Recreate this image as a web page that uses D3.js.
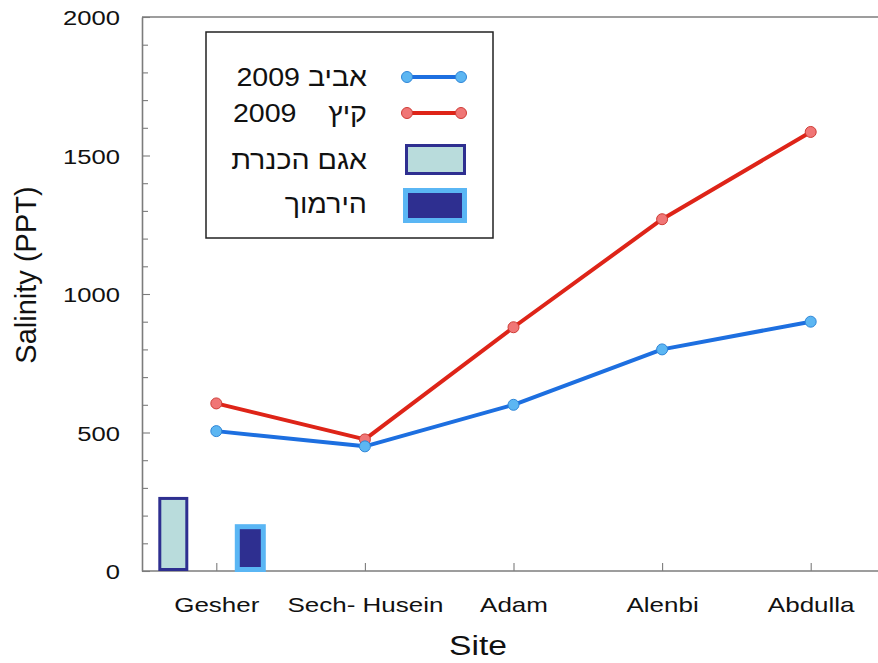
<!DOCTYPE html>
<html>
<head>
<meta charset="utf-8">
<script src="https://cdn.jsdelivr.net/npm/d3@7"></script>
<style>
  body { margin: 0; background: #fff; }
  text { font-family: "Liberation Sans", Arial, sans-serif; }
</style>
</head>
<body>
<svg id="chart" width="878" height="663"></svg>
<script>
// data
const sites = ["Gesher", "Sech- Husein", "Adam", "Alenbi", "Abdulla"];
const spring2009 = [505, 450, 600, 800, 900];
const summer2009 = [605, 475, 880, 1270, 1585];
const barNames = ["אגם הכנרת", "הירמוך"];
const barValues = [262, 160];
const yMajor = [0, 500, 1000, 1500, 2000];
const yMinor = d3.range(0, 2001, 100);

const svg = d3.select("#chart");
const plotLeft = 142, plotTop = 17, plotBottom = 571;

// scales
const x = d3.scaleLinear().domain([-0.5, 4.5]).range([plotLeft, 885]);
const y = d3.scaleLinear().domain([0, 2000]).range([plotBottom, plotTop]);

// colours
const blueLine = "#1d6fe0", blueDot = "#5cb6f2", blueDotStroke = "#2f86d8";
const redLine = "#de2418", redDot = "#f07676", redDotStroke = "#cf3b35";
const navy = "#2e2f90", paleCyan = "#b9dcdc", lightBlue = "#5ab6f4";
const frame = "#7c7c7c";

// top frame line
svg.append("line")
  .attr("x1", plotLeft).attr("x2", 878)
  .attr("y1", plotTop).attr("y2", plotTop)
  .attr("stroke", frame).attr("stroke-width", 1.6);

// y axis: inward ticks, majors a bit longer
const yTicksG = svg.append("g")
  .attr("transform", `translate(${plotLeft},0)`)
  .call(d3.axisRight(y).tickValues(yMinor).tickSize(6).tickSizeOuter(0).tickFormat(""));
yTicksG.select(".domain").attr("stroke", frame).attr("stroke-width", 1.6);
yTicksG.selectAll(".tick line")
  .attr("stroke", frame).attr("stroke-width", 1.1)
  .attr("x2", d => yMajor.includes(d) ? 8 : 6);

const yLabels = svg.append("g")
  .attr("transform", `translate(${plotLeft - 22},0)`)
  .call(d3.axisLeft(y).tickValues(yMajor).tickSize(0).tickPadding(0).tickFormat(d3.format("d")));
yLabels.select(".domain").remove();
yLabels.selectAll("text")
  .attr("x", 0).attr("dy", "0.36em")
  .attr("font-size", 21).attr("fill", "#111")
  .attr("font-family", "Liberation Sans, Arial, sans-serif")
  .attr("transform", "scale(1.22,1)");

// x axis: ticks pointing up, labels below
const xTicksG = svg.append("g")
  .attr("transform", `translate(0,${plotBottom})`)
  .call(d3.axisTop(x).tickValues(d3.range(sites.length)).tickSize(8).tickSizeOuter(0).tickFormat(""));
xTicksG.select(".domain").attr("d", `M${plotLeft},0H878`).attr("stroke", frame).attr("stroke-width", 1.6);
xTicksG.selectAll(".tick line").attr("stroke", frame).attr("stroke-width", 1.1);

const xLabels = svg.append("g")
  .attr("transform", `translate(0,${plotBottom})`)
  .call(d3.axisBottom(x).tickValues(d3.range(sites.length)).tickSize(0).tickFormat(i => sites[i]));
xLabels.select(".domain").remove();
xLabels.selectAll("text")
  .attr("y", 41).attr("dy", 0)
  .attr("font-size", 20).attr("fill", "#111")
  .attr("font-family", "Liberation Sans, Arial, sans-serif")
  .attr("transform", "scale(1.3,1)");

// axis titles
svg.append("text")
  .attr("transform", "translate(36,275) rotate(-90)")
  .attr("text-anchor", "middle")
  .attr("font-size", 29).attr("fill", "#111")
  .text("Salinity (PPT)");

svg.append("text")
  .attr("transform", "translate(478,655) scale(1.2,1)")
  .attr("text-anchor", "middle")
  .attr("font-size", 28).attr("fill", "#111")
  .text("Site");

// bars at Gesher
const barOffsets = [-43, 34];
const barStyles = [
  { fill: paleCyan, stroke: navy, sw: 3, w: 27 },
  { fill: navy, stroke: lightBlue, sw: 5, w: 26 }
];
svg.append("g").selectAll("rect")
  .data(barValues)
  .join("rect")
    .attr("x", (d, i) => x(0) + barOffsets[i] - barStyles[i].w / 2)
    .attr("width", (d, i) => barStyles[i].w)
    .attr("y", d => y(d))
    .attr("height", d => y(0) - y(d) - barStyles[0].sw / 2)
    .attr("fill", (d, i) => barStyles[i].fill)
    .attr("stroke", (d, i) => barStyles[i].stroke)
    .attr("stroke-width", (d, i) => barStyles[i].sw);

// lines
const series = [
  { values: spring2009, line: blueLine, dot: blueDot, dotStroke: blueDotStroke },
  { values: summer2009, line: redLine, dot: redDot, dotStroke: redDotStroke }
];
const lineGen = d3.line().x((d, i) => x(i)).y(d => y(d));

series.slice().reverse().forEach(s => {
  svg.append("path")
    .datum(s.values)
    .attr("d", lineGen)
    .attr("fill", "none")
    .attr("stroke", s.line)
    .attr("stroke-width", 4)
    .attr("stroke-linejoin", "round");
  svg.append("g").selectAll("circle")
    .data(s.values)
    .join("circle")
      .attr("cx", (d, i) => x(i))
      .attr("cy", d => y(d))
      .attr("r", 5.5)
      .attr("fill", s.dot)
      .attr("stroke", s.dotStroke)
      .attr("stroke-width", 1);
});

// legend
const legend = svg.append("g");
legend.append("rect")
  .attr("x", 206).attr("y", 32).attr("width", 287).attr("height", 206)
  .attr("fill", "#fff").attr("stroke", "#222").attr("stroke-width", 1.5);

const legendLabels = ["אביב 2009", "קיץ\u00a0\u00a0\u00a0 2009", barNames[0], barNames[1]];
const legendRows = [77, 113, 160, 204];

legend.selectAll("text.lab")
  .data(legendLabels)
  .join("text")
    .attr("class", "lab")
    .attr("transform", (d, i) => `translate(367,${legendRows[i]}) scale(1.1,1)`)
    .attr("dy", "0.36em")
    .attr("text-anchor", "end")
    .attr("font-size", 26).attr("fill", "#111")
    .text(d => d);

series.forEach((s, i) => {
  const yy = legendRows[i];
  legend.append("line")
    .attr("x1", 407).attr("x2", 461).attr("y1", yy).attr("y2", yy)
    .attr("stroke", s.line).attr("stroke-width", 4);
  legend.selectAll(null)
    .data([407, 461])
    .join("circle")
      .attr("cx", d => d).attr("cy", yy).attr("r", 5.5)
      .attr("fill", s.dot).attr("stroke", s.dotStroke).attr("stroke-width", 1);
});

legend.append("rect")
  .attr("x", 406.5).attr("y", 145.5).attr("width", 58).attr("height", 28)
  .attr("fill", paleCyan).attr("stroke", navy).attr("stroke-width", 3);
legend.append("rect")
  .attr("x", 405.5).attr("y", 190.5).attr("width", 59).attr("height", 30)
  .attr("fill", navy).attr("stroke", lightBlue).attr("stroke-width", 5);
</script>
</body>
</html>
